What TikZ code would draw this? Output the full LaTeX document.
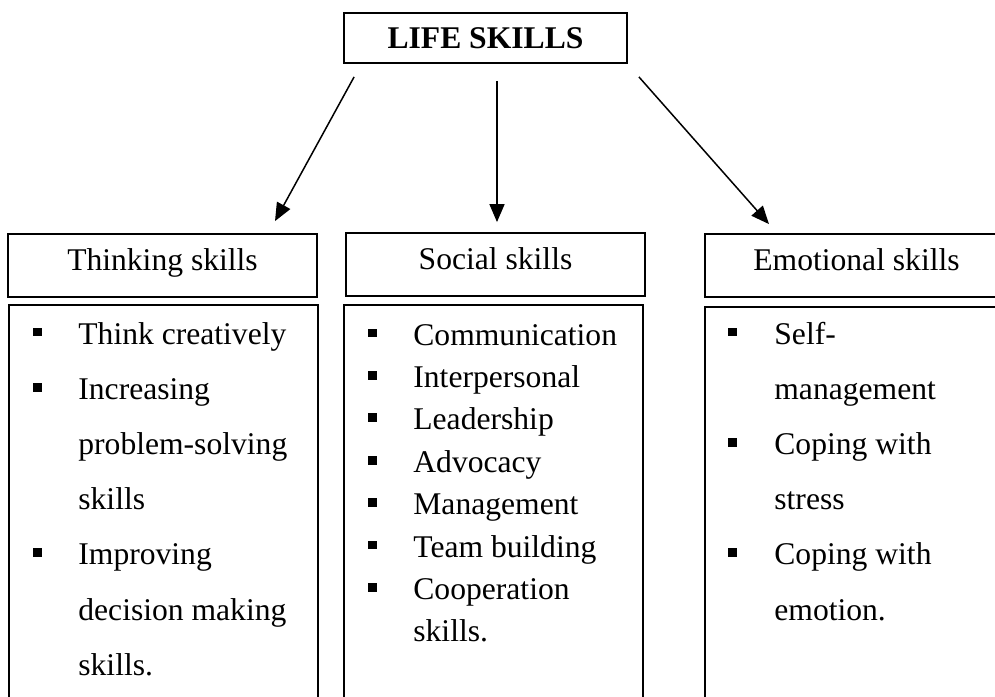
\documentclass[tikz,border=0pt]{standalone}
\usepackage{fontspec}
\setmainfont{Liberation Serif}
\usetikzlibrary{arrows.meta}
\begin{document}
\begin{tikzpicture}[x=0.5pt,y=-0.5pt,
  every node/.style={font=\fontsize{15.8pt}{19pt}\selectfont},
  box/.style={draw, line width=0.9pt, inner sep=0pt},
  head/.style={box, minimum height=31.5pt, text height=0.69em, text depth=0.22em},
  panel/.style={draw, line width=0.9pt, inner sep=0pt},
  item/.style={anchor=base west, inner sep=0pt},
  bul/.style={fill=black, inner sep=0pt, minimum size=4.4pt},
  link/.style={line width=0.75pt, -{Triangle[length=9pt,width=7.5pt]}}]
\useasboundingbox (0,0) rectangle (995,696);
\clip (0,0) rectangle (995,696);

% title
\node[box, minimum width=141.5pt, minimum height=25pt, text height=1.0em, text depth=0pt]
  (life) at (485.5,38) {\bfseries LIFE SKILLS};

% column headings
\node[head, minimum width=154.5pt] (think) at (162.5,265.5) {Thinking skills};
\node[head, minimum width=149.5pt] (social) at (495.5,264.5) {Social skills};
\node[head, minimum width=151.5pt] (emo) at (856.5,265.5) {Emotional skills};

% arrows from the title to the headings
\draw[link] ([shift={(11,13)}]life.south west) -- ([shift={(112.5,-12)}]think.north);
\draw[link] ([shift={(11.5,17)}]life.south) -- ([shift={(1.5,-10)}]social.north);
\draw[link] ([shift={(11,13)}]life.south east) -- ([shift={(-87.5,-9)}]emo.north);

% list panels
\node[panel, minimum width=154.5pt, minimum height=207.5pt] (thinkp) at (163.5,512.5) {};
\node[panel, minimum width=149.5pt, minimum height=207.5pt] (socialp) at (493.5,512.5) {};
\node[panel, minimum width=152.5pt, minimum height=206.5pt] (emop) at (857.5,513.5) {};

% thinking skills
\foreach [count=\i] \txt in {Think creatively, Increasing, problem-solving, skills,
    Improving, decision making, skills.}
  \node[item] (t\i) at (78,344+55.2*\i-55.2) {\txt};
\foreach \i in {1,2,5}
  \node[bul] (tb\i) at (37.5,332+55.2*\i-55.2) {};

% social skills
\foreach [count=\i] \txt in {Communication, Interpersonal, Leadership, Advocacy,
    Management, Team building, Cooperation, skills.}
  \node[item] (s\i) at (413,345+42.4*\i-42.4) {\txt};
\foreach \i in {1,...,7}
  \node[bul] (sb\i) at (372.5,333+42.4*\i-42.4) {};

% emotional skills
\foreach [count=\i] \txt in {Self-, management, Coping with, stress,
    Coping with, emotion.}
  \node[item] (e\i) at (774,344+55.2*\i-55.2) {\txt};
\foreach \i in {1,3,5}
  \node[bul] (eb\i) at (732.5,332+55.2*\i-55.2) {};
\end{tikzpicture}
\end{document}
